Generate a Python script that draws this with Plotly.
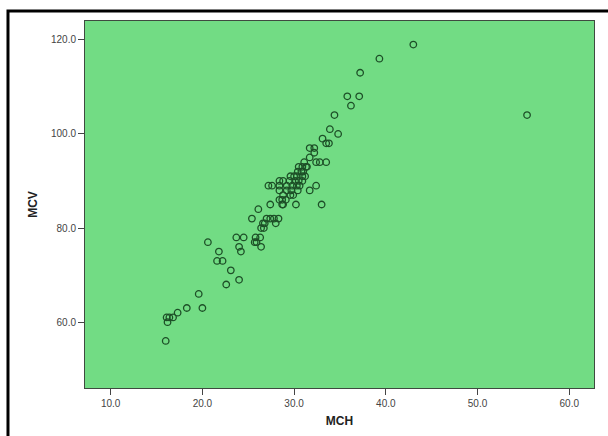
import plotly.graph_objects as go

# MCV values (y) with corresponding MCH values (x)
mcv = [56, 60, 61, 61, 61, 62, 63, 63, 66, 68, 69, 71, 73, 73, 75, 75, 76, 76,
       77, 77, 77, 78, 78, 78, 78, 80, 80, 81, 81, 81, 82, 82, 82, 82, 82, 84,
       85, 85, 85, 85, 85, 86, 86, 86, 87, 87, 87, 88, 88, 88, 88, 88,
       89, 89, 89, 89, 89, 89, 89, 89, 90, 90, 90, 90, 90, 90,
       91, 91, 91, 91, 91, 92, 92, 92, 93, 93, 93, 93, 94, 94, 94, 94,
       95, 96, 97, 97, 98, 98, 99, 100, 101, 104, 104, 106, 108, 108, 113, 116, 119]
mch = [16.0, 16.2, 16.1, 16.4, 16.8, 17.3, 18.3, 20.0, 19.6, 22.6, 24.0, 23.1, 21.6, 22.2, 21.8, 24.2, 24.0, 26.4,
       20.6, 25.7, 25.9, 23.7, 24.5, 25.8, 26.3, 26.4, 26.7, 26.6, 26.8, 28.0, 25.4, 27.0, 27.4, 27.8, 28.3, 26.1,
       27.4, 28.7, 28.8, 30.2, 33.0, 28.4, 28.7, 29.1, 28.8, 29.6, 29.9, 28.4, 29.2, 29.7, 30.4, 31.7,
       27.2, 27.6, 28.4, 29.2, 29.8, 30.3, 30.6, 32.4, 28.4, 28.8, 29.5, 30.1, 30.5, 30.9,
       29.6, 30.0, 30.3, 30.9, 31.2, 30.4, 30.8, 31.0, 30.5, 30.9, 31.3, 31.4, 31.1, 32.4, 32.8, 33.5,
       31.7, 32.2, 31.7, 32.2, 33.5, 33.8, 33.1, 34.8, 33.9, 34.4, 55.4, 36.2, 35.8, 37.1, 37.2, 39.3, 43.0]

x_ticks = [10, 20, 30, 40, 50, 60]
y_ticks = [60, 80, 100, 120]

fig = go.Figure()
fig.add_trace(go.Scatter(
    x=mch, y=mcv, mode="markers",
    marker=dict(symbol="circle-open", size=6.5, color="#1d4f27",
                line=dict(width=1.3, color="#1d4f27")),
    showlegend=False,
))

axis_common = dict(
    showgrid=False, zeroline=False,
    showline=True, linecolor="#3f4a40", linewidth=1, mirror=True,
    ticks="outside", ticklen=6, tickcolor="#444", tickwidth=1,
    tickformat=".1f",
    tickfont=dict(family="Liberation Sans, Arial", size=10, color="#444"),
)

fig.update_xaxes(range=[7.2, 62.7], tickvals=x_ticks,
                 title=dict(text="<b>MCH</b>", standoff=8,
                            font=dict(family="Liberation Sans, Arial", size=12, color="#222")),
                 **axis_common)
fig.update_yaxes(range=[46.0, 124.0], tickvals=y_ticks,
                 title=dict(text="<b>MCV</b>", standoff=10,
                            font=dict(family="Liberation Sans, Arial", size=12, color="#222")),
                 **axis_common)

fig.add_shape(type="rect", xref="paper", yref="paper",
              x0=-0.1513, y0=-0.17, x1=1.06, y1=1.0272,
              line=dict(color="black", width=3), fillcolor="rgba(0,0,0,0)", layer="above")

fig.update_layout(
    width=608, height=436,
    margin=dict(l=85, r=14, t=21, b=48),
    plot_bgcolor="#72dc84",
    paper_bgcolor="white",
)

fig.write_html("out.html", config={"displayModeBar": False},
               post_script="document.body.style.margin='0';document.body.style.overflow='hidden';")
